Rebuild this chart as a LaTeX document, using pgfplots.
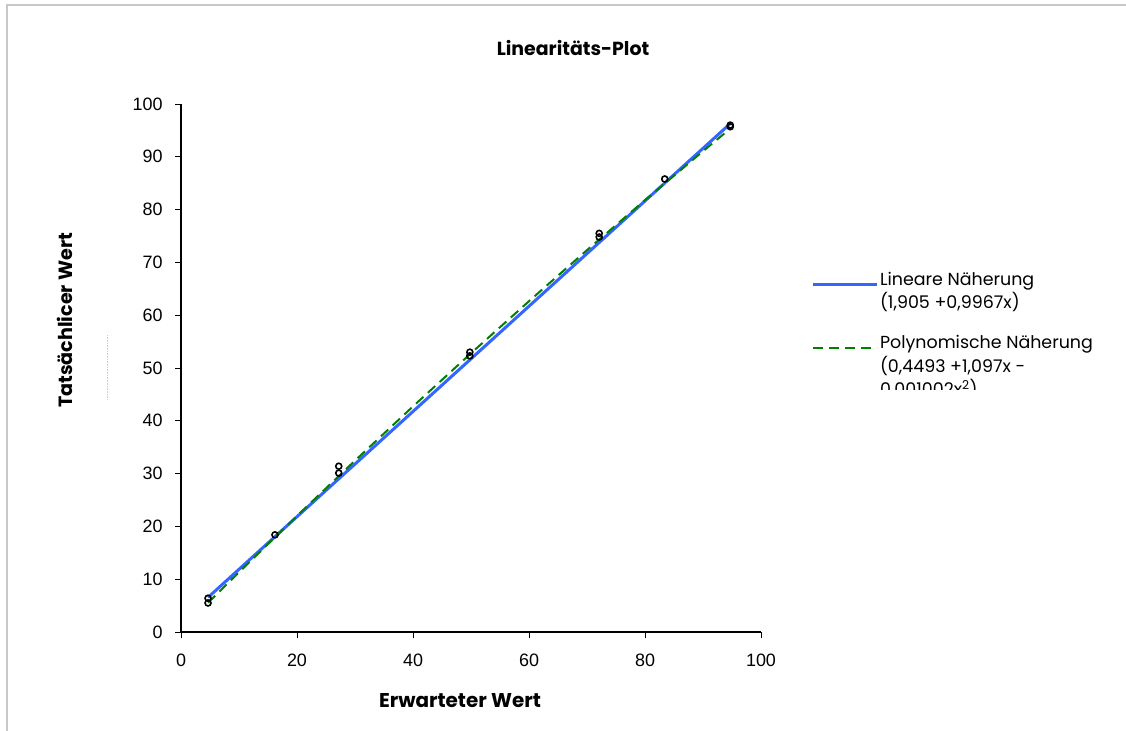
\documentclass[border=0pt]{standalone}
\usepackage{fontspec}
\setmainfont{Poppins}
\newfontfamily\arialfont{Liberation Sans}
\usepackage{pgfplots}
\pgfplotsset{compat=1.18}
\definecolor{fitblue}{RGB}{51,102,255}
\definecolor{fitgreen}{RGB}{0,128,0}
\definecolor{framegray}{RGB}{200,200,200}

\begin{document}
\begin{tikzpicture}
\useasboundingbox (0,0) rectangle (1126bp,-731bp);
\fill[white] (0,0) rectangle (1126bp,-731bp);
\draw[framegray, line width=2bp] (7bp,-731bp) -- (7bp,-5bp) -- (1126bp,-5bp);
\node[font=\fontsize{19}{22}\selectfont\bfseries] at (573bp,-48bp) {Linearitäts-Plot};
\draw[gray!40, densely dotted, line width=0.6bp] (107bp,-335bp) -- (107bp,-400bp);

\begin{axis}[
  at={(181bp,-632bp)}, anchor=south west,
  width=580bp, height=528bp, scale only axis,
  xmin=0, xmax=100, ymin=0, ymax=100,
  axis x line*=bottom, axis y line*=left,
  axis line style={black, line width=1.2bp, -},
  xtick={0,20,...,100}, ytick={0,10,...,100},
  tick align=outside, major tick length=6bp,
  tick style={black, line width=1bp},
  tick label style={font=\arialfont\fontsize{18}{21}\selectfont},
  xticklabel style={yshift=-12bp},
  yticklabel style={xshift=-9bp},
  /pgf/number format/assume math mode=true,
  xlabel={Erwarteter Wert}, ylabel={Tatsächlicer Wert},
  label style={font=\fontsize{20}{23}\selectfont\bfseries},
  xlabel style={at={(axis description cs:0.481,-0.129)}, anchor=center},
  ylabel style={at={(axis description cs:-0.2,0.59)}, anchor=center,
    font=\fontsize{19.2}{23}\selectfont\bfseries},
  legend style={at={(1.086,0.686)}, anchor=north west, draw=none, fill=none,
    font=\fontsize{17.5}{23.5}\selectfont, inner sep=0pt, row sep=21bp,
    cells={align=left, anchor=north west}},
  legend image code/.code={\draw[#1] (0bp,-15bp) -- (64bp,-15bp);},
  clip=false,
]
\addplot[fitblue, line width=3bp] coordinates {(4.66,6.55) (94.7,96.29)};
\addlegendentry{Lineare Näherung\\(1,905 +0,9967x)}
\addplot[fitgreen, line width=2bp, dash pattern=on 10bp off 6bp] coordinates {
  (4.66,5.54) (10,11.32) (20,21.99) (30,32.46) (40,42.73) (50,52.79)
  (60,62.66) (70,72.33) (80,81.80) (90,91.06) (94.7,95.35)};
\addlegendentry{Polynomische Näherung\\(0,4493 +1,097x -\\0,001002x\textsuperscript{2})}
\addplot[only marks, mark=o, mark size=3bp, black, line width=1.6bp, forget plot] coordinates {
  (4.66,6.4) (4.66,5.5) (16.2,18.4) (27.2,31.4) (27.2,30.1)
  (49.8,53.0) (49.8,52.3) (72.1,75.5) (72.1,74.8) (83.4,85.8)
  (94.7,96.0) (94.7,95.7)};
\end{axis}
\fill[white] (878bp,-390bp) rectangle (1040bp,-415bp);
\end{tikzpicture}
\end{document}
